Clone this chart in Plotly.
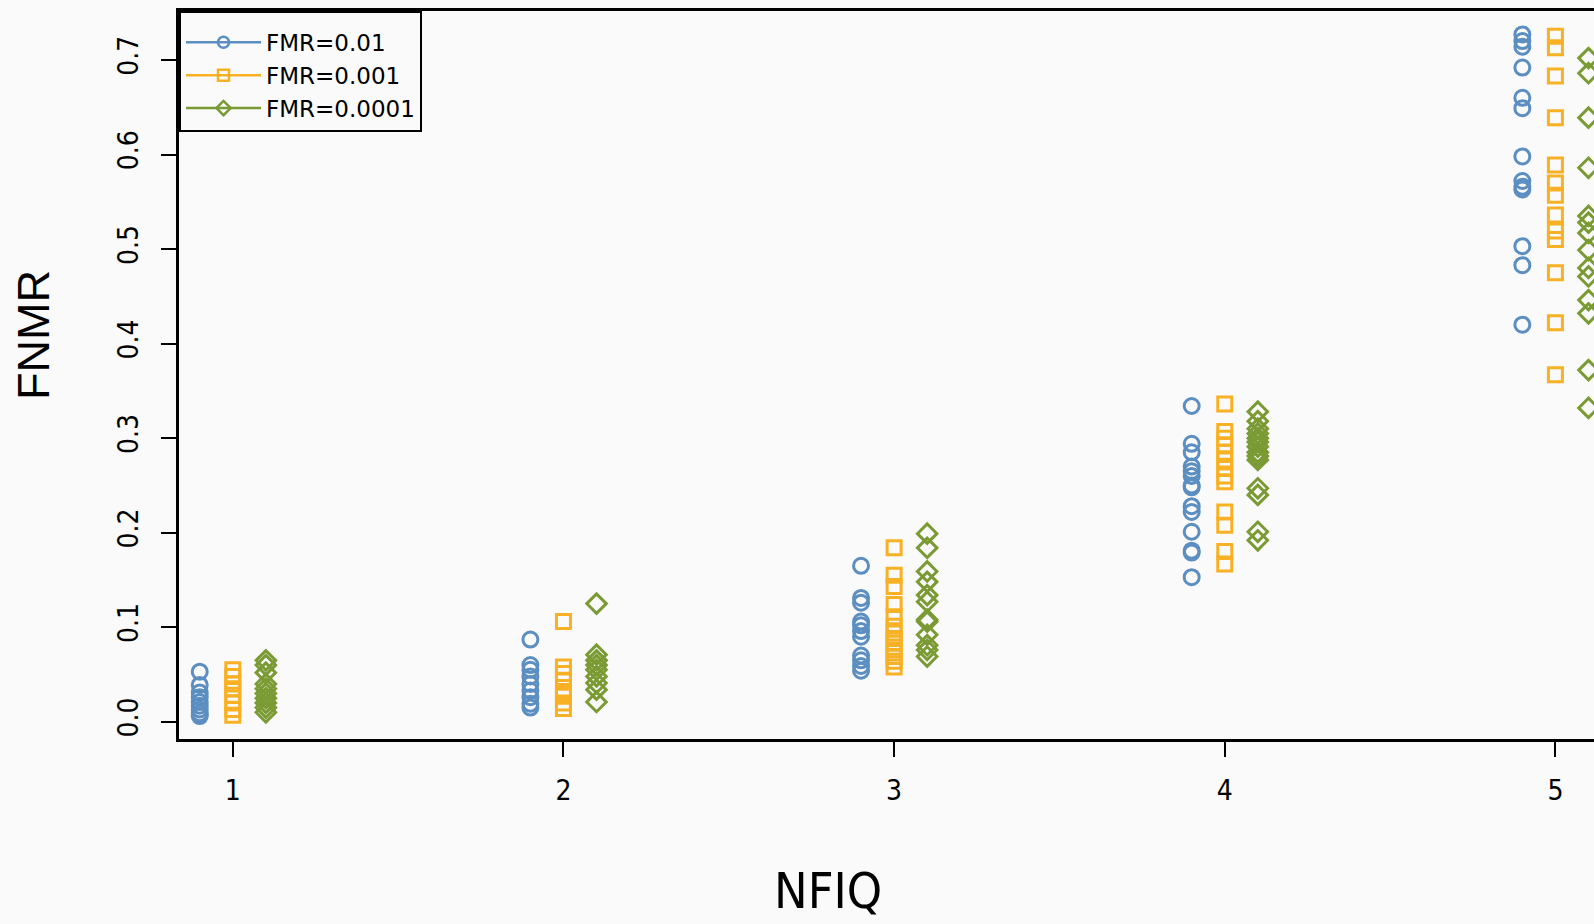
import plotly.graph_objects as go

# ---------------- data ----------------
nfiq_levels = [1, 2, 3, 4, 5]
series_names = ["FMR=0.01", "FMR=0.001", "FMR=0.0001"]

fnmr_fmr_0_01 = [
    [0.053, 0.039, 0.031, 0.026, 0.021, 0.017, 0.013, 0.009, 0.006],
    [0.087, 0.060, 0.055, 0.048, 0.040, 0.033, 0.026, 0.019, 0.015],
    [0.165, 0.131, 0.126, 0.106, 0.102, 0.096, 0.090, 0.070, 0.065, 0.059, 0.054],
    [0.334, 0.294, 0.285, 0.270, 0.265, 0.260, 0.250, 0.248, 0.228, 0.222, 0.201, 0.181, 0.179, 0.153],
    [0.727, 0.720, 0.714, 0.692, 0.660, 0.649, 0.598, 0.572, 0.566, 0.563, 0.503, 0.483, 0.420],
]
fnmr_fmr_0_001 = [
    [0.055, 0.048, 0.040, 0.035, 0.028, 0.020, 0.013, 0.007],
    [0.106, 0.058, 0.051, 0.044, 0.032, 0.027, 0.020, 0.014],
    [0.184, 0.155, 0.143, 0.124, 0.111, 0.101, 0.094, 0.088, 0.083, 0.076, 0.069, 0.064, 0.058],
    [0.336, 0.307, 0.300, 0.293, 0.285, 0.277, 0.268, 0.260, 0.254, 0.222, 0.208, 0.180, 0.167],
    [0.725, 0.713, 0.683, 0.639, 0.589, 0.570, 0.557, 0.536, 0.519, 0.510, 0.475, 0.422, 0.367],
]
fnmr_fmr_0_0001 = [
    [0.065, 0.060, 0.052, 0.040, 0.035, 0.030, 0.025, 0.020, 0.015, 0.010],
    [0.125, 0.071, 0.065, 0.060, 0.055, 0.048, 0.041, 0.034, 0.021],
    [0.199, 0.184, 0.159, 0.148, 0.134, 0.127, 0.108, 0.106, 0.092, 0.081, 0.076, 0.069],
    [0.328, 0.318, 0.310, 0.305, 0.300, 0.296, 0.291, 0.285, 0.281, 0.277, 0.247, 0.240, 0.201, 0.192],
    [0.702, 0.686, 0.639, 0.586, 0.535, 0.528, 0.517, 0.499, 0.480, 0.471, 0.446, 0.432, 0.372, 0.332],
]

x_tick_labels = ["1", "2", "3", "4", "5"]
y_tick_values = [0.0, 0.1, 0.2, 0.3, 0.4, 0.5, 0.6, 0.7]
y_tick_labels = ["0.0", "0.1", "0.2", "0.3", "0.4", "0.5", "0.6", "0.7"]

# ---------------- styling ----------------
colors = ["#5B8EC1", "#F8B124", "#7A9A33"]
symbols = ["circle-open", "square-open", "diamond-open"]
sizes = [15, 14, 15]
offsets = [-0.1, 0.0, 0.1]
BG = "#fafafa"
NARROW = "Liberation Sans Narrow, Arial Narrow, DejaVu Sans Condensed, sans-serif"
REG = "Liberation Sans, Arial, sans-serif"
LEG = "DejaVu Sans, sans-serif"

fig = go.Figure()
all_series = [fnmr_fmr_0_01, fnmr_fmr_0_001, fnmr_fmr_0_0001]
for name, data, col, sym, sz, off in zip(series_names, all_series, colors, symbols, sizes, offsets):
    xs = [lvl + off for lvl, vals in zip(nfiq_levels, data) for _ in vals]
    ys = [v for vals in data for v in vals]
    fig.add_trace(go.Scatter(
        x=xs, y=ys, mode="markers", name=name, showlegend=False,
        marker=dict(symbol=sym, size=sz, color=col, line=dict(width=3, color=col)),
    ))
    # legend entry (line + marker, like the R legend)
    fig.add_trace(go.Scatter(
        x=[None], y=[None], mode="lines+markers", name=name, showlegend=True,
        line=dict(color=col, width=2.5),
        marker=dict(symbol=sym, size=11, color=col, line=dict(width=2.5, color=col)),
    ))

fig.update_layout(
    width=1594, height=924,
    margin=dict(l=179, r=0, t=11, b=185),
    paper_bgcolor=BG, plot_bgcolor=BG,
    showlegend=True,
    legend=dict(
        x=0, y=1, xanchor="left", yanchor="top",
        bgcolor=BG, bordercolor="black", borderwidth=2,
        font=dict(family=LEG, size=23, color="black"),
        itemwidth=75, tracegroupgap=0,
        title=dict(text="&nbsp;", font=dict(size=6), side="top"),
    ),
    xaxis=dict(
        range=[0.8373, 5.1167], tickmode="array", tickvals=nfiq_levels, ticktext=x_tick_labels,
        showgrid=False, zeroline=False, showline=True, linecolor="black", linewidth=2.5,
        mirror=True, ticks="outside", ticklen=15, tickwidth=1.5, tickcolor="black",
        tickfont=dict(family=NARROW, size=28, color="black"), ticklabelstandoff=10,
    ),
    yaxis=dict(
        range=[-0.0182, 0.7518], tickmode="array", tickvals=y_tick_values, ticktext=y_tick_labels,
        showgrid=False, zeroline=False, showline=True, linecolor="black", linewidth=2.5,
        ticks="outside", ticklen=15, tickwidth=1.5, tickcolor="black", tickangle=-90,
        tickfont=dict(family=NARROW, size=28, color="black"), ticklabelstandoff=12,
    ),
    annotations=[
        dict(text="NFIQ", xref="paper", yref="paper", x=0.4587, y=(739 - 891) / 728,
             xanchor="center", yanchor="middle", showarrow=False,
             font=dict(family=NARROW, size=50, color="black")),
        dict(text="FNMR", xref="paper", yref="paper", x=-0.1025, y=0.555,
             xanchor="center", yanchor="middle", showarrow=False, textangle=-90,
             font=dict(family=REG, size=45, color="black")),
    ],
)

fig.write_html(
    "out.html",
    config={"displayModeBar": False},
    post_script="document.body.style.margin='0';document.body.style.overflow='hidden';",
)
